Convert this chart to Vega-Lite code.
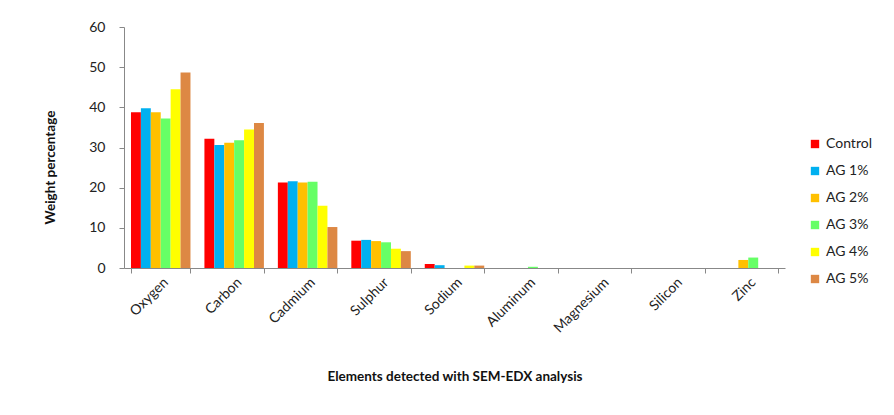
{
  "$schema": "https://vega.github.io/schema/vega-lite/v6.json",
  "autosize": "none",
  "width": 661,
  "height": 241,
  "padding": {"left": 124, "top": 27, "right": 109, "bottom": 147},
  "background": "white",
  "config": {
    "view": {"stroke": null},
    "font": "Lato",
    "axis": {"labelFont": "Lato", "titleFont": "Lato", "labelColor": "#222", "titleColor": "#111", "domainColor": "#888", "tickColor": "#888", "grid": false}
  },
  "data": {
    "values": [
      {"element": "Oxygen", "group": "Control", "value": 38.8},
      {"element": "Oxygen", "group": "AG 1%", "value": 39.8},
      {"element": "Oxygen", "group": "AG 2%", "value": 38.8},
      {"element": "Oxygen", "group": "AG 3%", "value": 37.2},
      {"element": "Oxygen", "group": "AG 4%", "value": 44.5},
      {"element": "Oxygen", "group": "AG 5%", "value": 48.7},
      {"element": "Carbon", "group": "Control", "value": 32.2},
      {"element": "Carbon", "group": "AG 1%", "value": 30.6},
      {"element": "Carbon", "group": "AG 2%", "value": 31.2},
      {"element": "Carbon", "group": "AG 3%", "value": 31.8},
      {"element": "Carbon", "group": "AG 4%", "value": 34.5},
      {"element": "Carbon", "group": "AG 5%", "value": 36.1},
      {"element": "Cadmium", "group": "Control", "value": 21.3},
      {"element": "Cadmium", "group": "AG 1%", "value": 21.6},
      {"element": "Cadmium", "group": "AG 2%", "value": 21.3},
      {"element": "Cadmium", "group": "AG 3%", "value": 21.5},
      {"element": "Cadmium", "group": "AG 4%", "value": 15.5},
      {"element": "Cadmium", "group": "AG 5%", "value": 10.2},
      {"element": "Sulphur", "group": "Control", "value": 6.8},
      {"element": "Sulphur", "group": "AG 1%", "value": 7.0},
      {"element": "Sulphur", "group": "AG 2%", "value": 6.7},
      {"element": "Sulphur", "group": "AG 3%", "value": 6.4},
      {"element": "Sulphur", "group": "AG 4%", "value": 4.8},
      {"element": "Sulphur", "group": "AG 5%", "value": 4.2},
      {"element": "Sodium", "group": "Control", "value": 1.0},
      {"element": "Sodium", "group": "AG 1%", "value": 0.7},
      {"element": "Sodium", "group": "AG 2%", "value": 0},
      {"element": "Sodium", "group": "AG 3%", "value": 0},
      {"element": "Sodium", "group": "AG 4%", "value": 0.6},
      {"element": "Sodium", "group": "AG 5%", "value": 0.6},
      {"element": "Aluminum", "group": "Control", "value": 0},
      {"element": "Aluminum", "group": "AG 1%", "value": 0},
      {"element": "Aluminum", "group": "AG 2%", "value": 0},
      {"element": "Aluminum", "group": "AG 3%", "value": 0.3},
      {"element": "Aluminum", "group": "AG 4%", "value": 0},
      {"element": "Aluminum", "group": "AG 5%", "value": 0},
      {"element": "Magnesium", "group": "Control", "value": 0},
      {"element": "Magnesium", "group": "AG 1%", "value": 0},
      {"element": "Magnesium", "group": "AG 2%", "value": 0},
      {"element": "Magnesium", "group": "AG 3%", "value": 0},
      {"element": "Magnesium", "group": "AG 4%", "value": 0},
      {"element": "Magnesium", "group": "AG 5%", "value": 0},
      {"element": "Silicon", "group": "Control", "value": 0},
      {"element": "Silicon", "group": "AG 1%", "value": 0},
      {"element": "Silicon", "group": "AG 2%", "value": 0},
      {"element": "Silicon", "group": "AG 3%", "value": 0},
      {"element": "Silicon", "group": "AG 4%", "value": 0},
      {"element": "Silicon", "group": "AG 5%", "value": 0},
      {"element": "Zinc", "group": "Control", "value": 0},
      {"element": "Zinc", "group": "AG 1%", "value": 0},
      {"element": "Zinc", "group": "AG 2%", "value": 2.0},
      {"element": "Zinc", "group": "AG 3%", "value": 2.6},
      {"element": "Zinc", "group": "AG 4%", "value": 0},
      {"element": "Zinc", "group": "AG 5%", "value": 0}
    ]
  },
  "mark": {"type": "bar"},
  "encoding": {
    "x": {
      "field": "element",
      "type": "nominal",
      "sort": ["Oxygen", "Carbon", "Cadmium", "Sulphur", "Sodium", "Aluminum", "Magnesium", "Silicon", "Zinc"],
      "scale": {"paddingInner": 0.19, "paddingOuter": 0.095},
      "axis": {
        "title": "Elements detected with SEM-EDX analysis",
        "titleFontSize": 13.5,
        "titleFontWeight": "bold",
        "titlePadding": 34,
        "labelAngle": -45,
        "labelFontSize": 14,
        "tickBand": "extent",
        "tickSize": 5,
        "labelPadding": 2
      }
    },
    "xOffset": {
      "field": "group",
      "type": "nominal",
      "sort": ["Control", "AG 1%", "AG 2%", "AG 3%", "AG 4%", "AG 5%"],
      "scale": {"paddingInner": 0, "paddingOuter": 0}
    },
    "y": {
      "field": "value",
      "type": "quantitative",
      "scale": {"domain": [0, 60], "nice": false},
      "axis": {
        "title": "Weight percentage",
        "titleFontSize": 13.5,
        "titleFontWeight": "bold",
        "titlePadding": 31,
        "titleY": 140,
        "values": [0, 10, 20, 30, 40, 50, 60],
        "labelFontSize": 14,
        "tickSize": 5,
        "labelPadding": 14
      }
    },
    "color": {
      "field": "group",
      "type": "nominal",
      "sort": ["Control", "AG 1%", "AG 2%", "AG 3%", "AG 4%", "AG 5%"],
      "scale": {
        "domain": ["Control", "AG 1%", "AG 2%", "AG 3%", "AG 4%", "AG 5%"],
        "range": ["#FF0000", "#00B0F0", "#FFC000", "#66FF66", "#FFFF00", "#DD8844"]
      },
      "legend": {
        "title": null,
        "orient": "none",
        "legendX": 684,
        "legendY": 110,
        "symbolType": "square",
        "symbolSize": 70,
        "symbolStrokeWidth": 0,
        "labelFontSize": 14,
        "labelColor": "#222",
        "rowPadding": 13
      }
    }
  }
}
